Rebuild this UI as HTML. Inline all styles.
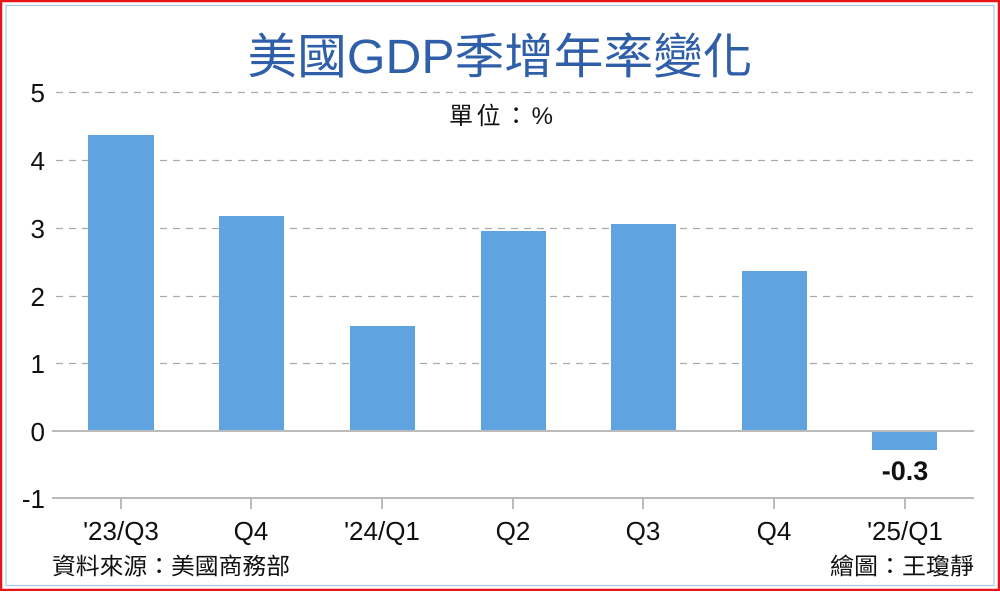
<!DOCTYPE html>
<html><head><meta charset="utf-8"><style>
body{margin:0;background:#fff}
svg text{font-family:"Liberation Sans","Noto Sans CJK TC",sans-serif}
</style></head><body>
<svg width="1000" height="591" viewBox="0 0 1000 591" xmlns="http://www.w3.org/2000/svg">
<rect x="1" y="1" width="998" height="589" fill="#fff" stroke="#e8141c" stroke-width="2.5"/>
<rect x="6" y="5.5" width="988" height="580" fill="none" stroke="#a9c8e8" stroke-width="1.2"/>
<text x="500" y="73" text-anchor="middle" font-size="48" fill="#2f5fa8" textLength="505" lengthAdjust="spacingAndGlyphs">美國GDP季增年率變化</text>
<g stroke="#aaa" stroke-width="1.3" stroke-dasharray="7,6">
<line x1="56" y1="92.5" x2="974" y2="92.5"/>
<line x1="56" y1="160.5" x2="974" y2="160.5"/>
<line x1="56" y1="228.5" x2="974" y2="228.5"/>
<line x1="56" y1="296.5" x2="974" y2="296.5"/>
<line x1="56" y1="363.5" x2="974" y2="363.5"/>
</g>
<text x="501" y="124" text-anchor="middle" font-size="24" fill="#111" textLength="104" lengthAdjust="spacing">單位：%</text>
<g fill="#5fa4e0">
<rect x="88" y="135" width="66" height="296"/>
<rect x="219" y="216" width="65" height="215"/>
<rect x="350" y="326" width="65" height="105"/>
<rect x="481" y="231" width="65" height="200"/>
<rect x="611" y="224" width="65" height="207"/>
<rect x="742" y="271" width="65" height="160"/>
<rect x="872" y="431" width="65" height="19"/>
</g>
<line x1="52" y1="431" x2="974" y2="431" stroke="#bbb" stroke-width="2"/>
<line x1="52" y1="498" x2="974" y2="498" stroke="#bbb" stroke-width="2"/>
<g stroke="#bbb" stroke-width="2">
<line x1="121" y1="498" x2="121" y2="509"/><line x1="251" y1="498" x2="251" y2="509"/>
<line x1="382" y1="498" x2="382" y2="509"/><line x1="513" y1="498" x2="513" y2="509"/>
<line x1="643" y1="498" x2="643" y2="509"/><line x1="774" y1="498" x2="774" y2="509"/>
<line x1="905" y1="498" x2="905" y2="509"/>
</g>
<g font-size="26" fill="#111" text-anchor="end">
<text x="45" y="102">5</text><text x="45" y="170">4</text><text x="45" y="238">3</text>
<text x="45" y="306">2</text><text x="45" y="373">1</text><text x="45" y="441">0</text>
<text x="45" y="508">-1</text>
</g>
<g font-size="26" fill="#111" text-anchor="middle">
<text x="121" y="540">'23/Q3</text><text x="251" y="540">Q4</text><text x="382" y="540">'24/Q1</text>
<text x="513" y="540">Q2</text><text x="643" y="540">Q3</text><text x="774" y="540">Q4</text>
<text x="905" y="540">'25/Q1</text>
</g>
<text x="905" y="480" text-anchor="middle" font-size="27" font-weight="bold" fill="#111">-0.3</text>
<text x="52" y="574" font-size="23" fill="#111" textLength="238" lengthAdjust="spacingAndGlyphs">資料來源：美國商務部</text>
<text x="974" y="574" text-anchor="end" font-size="23" fill="#111" textLength="144" lengthAdjust="spacingAndGlyphs">繪圖：王瓊靜</text>
</svg>
</body></html>
